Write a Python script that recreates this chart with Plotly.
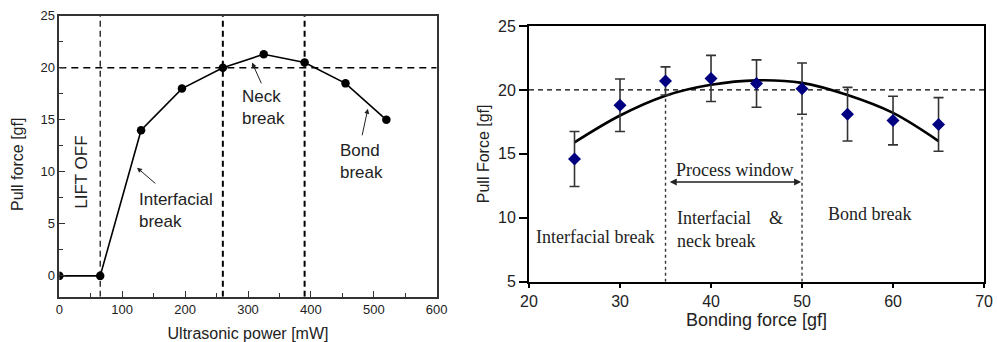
import plotly.graph_objects as go

# ---------------- data: left chart ----------------
power_mw = [0, 65, 130, 195, 260, 325, 390, 455, 520]
pull_left = [0, 0, 14.0, 18.0, 20.0, 21.3, 20.5, 18.5, 15.0]
left_vlines = [65, 260, 390]
left_vline_widths = [1.2, 2.0, 2.0]
ref_force = 20
left_xticks = [0, 100, 200, 300, 400, 500, 600]
left_yticks = [0, 5, 10, 15, 20, 25]

# ---------------- data: right chart ----------------
bond_force = [25, 30, 35, 40, 45, 50, 55, 60, 65]
pull_right = [14.6, 18.8, 20.7, 20.9, 20.5, 20.1, 18.1, 17.6, 17.3]
pull_err = [2.15, 2.05, 1.1, 1.8, 1.85, 2.0, 2.1, 1.9, 2.1]
fit_x = [25, 30, 35, 40, 45, 50, 55, 60, 65]
fit_y = [15.9, 18.0, 19.55, 20.4, 20.75, 20.55, 19.6, 18.2, 16.0]
window_bounds = [35, 50]
window_tops = [19.4, 18.0]
right_xticks = [20, 30, 40, 50, 60, 70]
right_yticks = [5, 10, 15, 20, 25]

W, H = 997, 342
SANS = "Liberation Sans, Arial, sans-serif"
SERIF = "Liberation Serif, Times New Roman, serif"
TXT = "#222222"

fig = go.Figure()

# left chart traces
fig.add_trace(go.Scatter(
    x=power_mw, y=pull_left, mode="lines+markers",
    line=dict(color="black", width=1.6),
    marker=dict(color="black", size=8.5, symbol="circle"),
    xaxis="x", yaxis="y", showlegend=False))

# right chart traces
fig.add_trace(go.Scatter(
    x=fit_x, y=fit_y, mode="lines", line=dict(color="black", width=2.6, shape="spline"),
    xaxis="x2", yaxis="y2", showlegend=False))
fig.add_trace(go.Scatter(
    x=bond_force, y=pull_right, mode="markers",
    marker=dict(color="#000080", size=10, symbol="diamond"),
    error_y=dict(type="data", array=pull_err, color="#333333", thickness=1.6, width=5),
    xaxis="x2", yaxis="y2", showlegend=False))

shapes = []
for xv, lw in zip(left_vlines, left_vline_widths):
    shapes.append(dict(type="line", xref="x", yref="y", x0=xv, x1=xv, y0=-2, y1=25,
                       line=dict(color="black", width=lw, dash="6px,4px"), layer="below"))
shapes.append(dict(type="line", xref="x", yref="y", x0=0, x1=600, y0=ref_force, y1=ref_force,
                   line=dict(color="black", width=1.6, dash="7px,5px"), layer="below"))
shapes.append(dict(type="line", xref="x2", yref="y2", x0=20, x1=70, y0=ref_force, y1=ref_force,
                   line=dict(color="black", width=1.4, dash="5px,4px"), layer="below"))
for xv, top in zip(window_bounds, window_tops):
    shapes.append(dict(type="line", xref="x2", yref="y2", x0=xv, x1=xv, y0=5, y1=top,
                       line=dict(color="#333333", width=1.4, dash="3px,3px"), layer="below"))

ann = []
def txt(x, y, text, xref, yref, size=17, family=SANS, xanchor="left", yanchor="middle", angle=0, align="left"):
    ann.append(dict(x=x, y=y, xref=xref, yref=yref, text=text, showarrow=False,
                    font=dict(family=family, size=size, color=TXT), xanchor=xanchor,
                    yanchor=yanchor, textangle=angle, align=align))

def arrow(x, y, ax, ay, xref, yref, width=1.0, size=1.0, side="end", head=2):
    ann.append(dict(x=x, y=y, ax=ax, ay=ay, xref=xref, yref=yref, axref=xref, ayref=yref,
                    text="", showarrow=True, arrowhead=head, arrowsize=size, arrowwidth=width,
                    arrowcolor="#222222", arrowside=side, standoff=0, startstandoff=0))

# left annotations
txt(36, 10.0, "LIFT OFF", "x", "y", xanchor="center", angle=-90)
txt(123.8, 6.3, "Interfacial<br>break", "x", "y")
txt(287.6, 16.15, "Neck<br>break", "x", "y")
txt(443, 11.0, "Bond<br>break", "x", "y")
arrow(123.5, 10.4, 155, 8.76, "x", "y")
arrow(306.4, 20.5, 322.3, 18.36, "x", "y")
arrow(490.6, 16.06, 481, 13.37, "x", "y")
# left y-axis title (placed in paper space)
txt(18 / W, 1 - 165 / H, "Pull force [gf]", "paper", "paper", size=16,
    xanchor="center", angle=-90)

# right annotations
txt(27.3, 8.5, "Interfacial break", "x2", "y2", size=18, family=SERIF, xanchor="center")
txt(36.0, 9.1, "Interfacial&nbsp;&nbsp;&nbsp;&nbsp;&amp;<br>neck break", "x2", "y2",
    size=18, family=SERIF)
txt(57.4, 10.3, "Bond break", "x2", "y2", size=18, family=SERIF, xanchor="center")
txt(42.6, 13.7, "Process window", "x2", "y2", size=18, family=SERIF, xanchor="center")
arrow(49.9, 12.8, 35.3, 12.8, "x2", "y2", width=1.4, size=1.0, side="end+start", head=2)

fig.update_layout(
    width=W, height=H, margin=dict(l=0, r=0, t=0, b=0, autoexpand=False),
    paper_bgcolor="white", plot_bgcolor="white",
    shapes=shapes, annotations=ann,
    xaxis=dict(domain=[0.0595, 0.438], range=[0, 600], tickvals=left_xticks,
               ticks="inside", ticklen=6, tickwidth=1.2, tickcolor="#333333",
               minor=dict(ticks="inside", ticklen=4, dtick=50, tickcolor="#333333"),
               linecolor="#333333", linewidth=1.5, anchor="y", automargin=False,
               showgrid=False, zeroline=False, showline=True, mirror=True,
               tickfont=dict(family=SANS, size=13, color="#222222"),
               title=dict(text="Ultrasonic power [mW]", standoff=12,
                          font=dict(family=SANS, size=16, color=TXT))),
    yaxis=dict(domain=[0.1325, 0.954], range=[-2, 25], tickvals=left_yticks,
               ticks="inside", ticklen=6, tickwidth=1.2, tickcolor="#333333",
               minor=dict(ticks="inside", ticklen=4, dtick=2.5, tickcolor="#333333"),
               linecolor="#333333", linewidth=1.5, anchor="x", automargin=False,
               showgrid=False, zeroline=False, showline=True, mirror=True,
               tickfont=dict(family=SANS, size=13, color="#222222")),
    xaxis2=dict(domain=[0.5306, 0.987], range=[20, 70], tickvals=right_xticks,
                ticks="outside", ticklen=4, tickwidth=1.5, tickcolor="black",
                linecolor="black", linewidth=2, anchor="y2", automargin=False,
                title=dict(text="Bonding force [gf]", standoff=1,
                           font=dict(family=SANS, size=18, color=TXT)),
                showgrid=False, zeroline=False, showline=True, mirror=True,
                tickfont=dict(family=SANS, size=16, color="#222222")),
    yaxis2=dict(domain=[0.1763, 0.924], range=[5, 25], tickvals=right_yticks,
                ticks="outside", ticklen=8, tickwidth=1.5, tickcolor="black",
                linecolor="black", linewidth=2, anchor="x2", automargin=False,
                title=dict(text="Pull Force [gf]", standoff=4,
                           font=dict(family=SANS, size=16, color=TXT)),
                showgrid=False, zeroline=False, showline=True, mirror=True,
                tickfont=dict(family=SANS, size=16, color="#222222")),
)

fig.write_html("out.html")
